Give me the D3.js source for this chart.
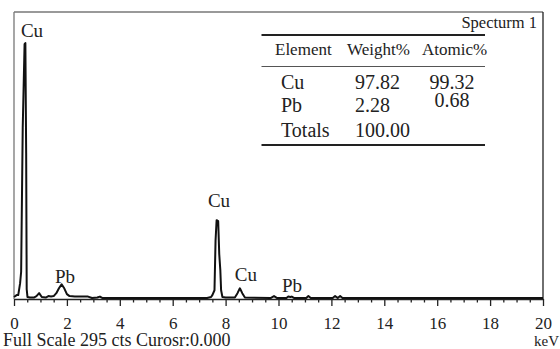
<!DOCTYPE html>
<html>
<head>
<meta charset="utf-8">
<script src="https://cdn.jsdelivr.net/npm/d3@7"></script>
<style>
  body { margin: 0; background: #fff; }
  svg { display: block; font-family: "Liberation Serif", "Times New Roman", serif; }
</style>
</head>
<body>
<div id="chart"></div>
<script>
// spectrum (keV / counts)
var energy = [0, 0.10, 0.16, 0.23, 0.27, 0.33, 0.40, 0.43, 0.46, 0.48, 0.51, 0.60, 0.75, 0.85, 0.95, 1.05, 1.20, 1.30, 1.40, 1.50,
  1.60, 1.70, 1.80, 1.90, 2.00, 2.10, 2.30, 2.80, 2.95, 3.15, 3.25, 3.35, 4.00, 6.00, 7.30, 7.45, 7.50, 7.58, 7.62, 7.66,
  7.72, 7.76, 7.80, 7.83, 7.88, 8.00, 8.35, 8.45, 8.54, 8.63, 8.73, 9.70, 9.83, 9.95, 10.30, 10.37, 10.45, 10.50, 10.60, 11.05,
  11.13, 11.22, 12.05, 12.14, 12.24, 12.33, 12.42, 13.00, 20.00];
var counts = [2, 4, 4, 16, 28, 176, 262, 263, 150, 10, 2, 1.5, 1.5, 3, 6, 2, 1.5, 3, 2.5, 3,
  6, 11, 15, 11, 5, 3, 2.5, 2.5, 1, 1.5, 2.5, 1, 1, 1, 1, 2, 4, 9, 60, 81,
  80, 46, 30, 9, 2, 1.5, 1.5, 6, 11, 6, 1.5, 1, 3, 1, 1, 2.5, 2, 2.5, 1, 1,
  3, 1, 1, 3, 1, 3, 1, 1, 1];

// peak labels
var peakNames = ["Cu", "Cu", "Pb", "Cu", "Pb"];
var peakKeV = [0.68, 7.75, 1.93, 8.77, 10.51];
var peakCts = [269.8, 94.6, 16.4, 18.5, 7.2];

// quant table
var elements = ["Cu", "Pb", "Totals"];
var weightPct = ["97.82", "2.28", "100.00"];
var atomicPct = ["99.32", "0.68", ""];

var majorTicks = d3.range(0, 21, 2);
var minorTicks = d3.range(0, 20.01, 0.5).filter(function(d) { return d % 2 !== 0; });

var width = 560, height = 349;
var plotL = 14, plotR = 543, plotT = 12, plotB = 299;

var svg = d3.select("#chart").append("svg")
  .attr("width", width)
  .attr("height", height);

var x = d3.scaleLinear().domain([0, 20]).range([plotL, plotR]);
var y = d3.scaleLinear().domain([0, 295]).range([plotB, plotT]);

// frame
svg.append("line").attr("x1", plotL).attr("x2", plotL).attr("y1", plotT).attr("y2", plotB)
  .attr("stroke", "#777").attr("stroke-width", 1.3);
svg.append("line").attr("x1", plotL).attr("x2", plotR).attr("y1", plotT).attr("y2", plotT)
  .attr("stroke", "#777").attr("stroke-width", 1.3);
svg.append("line").attr("x1", plotR).attr("x2", plotR).attr("y1", plotT).attr("y2", plotB)
  .attr("stroke", "#222").attr("stroke-width", 1.3);

// x axis: minor ticks, then major ticks with labels
var minorAxis = svg.append("g")
  .attr("transform", "translate(0," + plotB + ")")
  .call(d3.axisBottom(x).tickValues(minorTicks).tickSize(3.5).tickFormat(""));
minorAxis.select(".domain").remove();
minorAxis.selectAll("text").remove();

var majorAxis = svg.append("g")
  .attr("transform", "translate(0," + plotB + ")")
  .attr("font-family", "Liberation Serif")
  .attr("font-size", 17)
  .call(d3.axisBottom(x).tickValues(majorTicks).tickSize(7).tickSizeOuter(0).tickPadding(11).tickFormat(d3.format("d")));
majorAxis.attr("font-family", "Liberation Serif").attr("font-size", 17);

svg.selectAll(".tick line").attr("stroke", "#222").attr("stroke-width", 1.3);
majorAxis.select(".domain").attr("stroke", "#222").attr("stroke-width", 1.4);
majorAxis.selectAll("text").attr("fill", "#222");

// spectrum line
var pts = energy.map(function(e, i) { return [e, counts[i]]; });
var line = d3.line()
  .x(function(d) { return x(d[0]); })
  .y(function(d) { return y(d[1]); });

svg.append("path")
  .datum(pts)
  .attr("d", line)
  .attr("fill", "none")
  .attr("stroke", "#111")
  .attr("stroke-width", 2)
  .attr("stroke-linejoin", "round");

// peak labels
svg.selectAll(".peak")
  .data(peakNames)
  .enter()
  .append("text")
    .attr("class", "peak")
    .attr("x", function(d, i) { return x(peakKeV[i]); })
    .attr("y", function(d, i) { return y(peakCts[i]); })
    .attr("text-anchor", "middle")
    .style("font-size", "19px")
    .attr("fill", "#222")
    .text(function(d) { return d; });

// bottom captions
svg.append("text")
  .attr("x", 3).attr("y", 346)
  .style("font-size", "18px")
  .attr("fill", "#222")
  .text("Full Scale 295 cts Curosr:0.000");

svg.append("text")
  .attr("x", 534).attr("y", 346)
  .style("font-size", "15px")
  .attr("fill", "#222")
  .text("keV");

// table
svg.append("text")
  .attr("x", 537).attr("y", 28)
  .attr("text-anchor", "end")
  .style("font-size", "16.5px")
  .attr("fill", "#222")
  .text("Specturm 1");

var tl = 261.5, tr = 485;
svg.append("line").attr("x1", tl).attr("x2", tr).attr("y1", 35).attr("y2", 35)
  .attr("stroke", "#222").attr("stroke-width", 2);
svg.append("line").attr("x1", tl).attr("x2", tr).attr("y1", 66.5).attr("y2", 66.5)
  .attr("stroke", "#555").attr("stroke-width", 1);
svg.append("line").attr("x1", tl).attr("x2", tr).attr("y1", 145).attr("y2", 145)
  .attr("stroke", "#222").attr("stroke-width", 2);

var header = [["Element", 275], ["Weight%", 347], ["Atomic%", 422]];
svg.selectAll(".hdr")
  .data(header)
  .enter()
  .append("text")
    .attr("class", "hdr")
    .attr("x", function(d) { return d[1]; })
    .attr("y", 55)
    .style("font-size", "17px")
    .attr("fill", "#222")
    .text(function(d) { return d[0]; });

var rowY = [88.5, 112, 136.5];
var atomicY = [88.5, 107, 136.5];

svg.selectAll(".el")
  .data(elements)
  .enter()
  .append("text")
    .attr("x", 281)
    .attr("y", function(d, i) { return rowY[i]; })
    .style("font-size", "20px")
    .attr("fill", "#222")
    .text(function(d) { return d; });

svg.selectAll(".wt")
  .data(weightPct)
  .enter()
  .append("text")
    .attr("x", 355)
    .attr("y", function(d, i) { return rowY[i]; })
    .style("font-size", "20px")
    .attr("fill", "#222")
    .text(function(d) { return d; });

svg.selectAll(".at")
  .data(atomicPct)
  .enter()
  .append("text")
    .attr("x", 452)
    .attr("y", function(d, i) { return atomicY[i]; })
    .attr("text-anchor", "middle")
    .style("font-size", "20px")
    .attr("fill", "#222")
    .text(function(d) { return d; });
</script>
</body>
</html>
